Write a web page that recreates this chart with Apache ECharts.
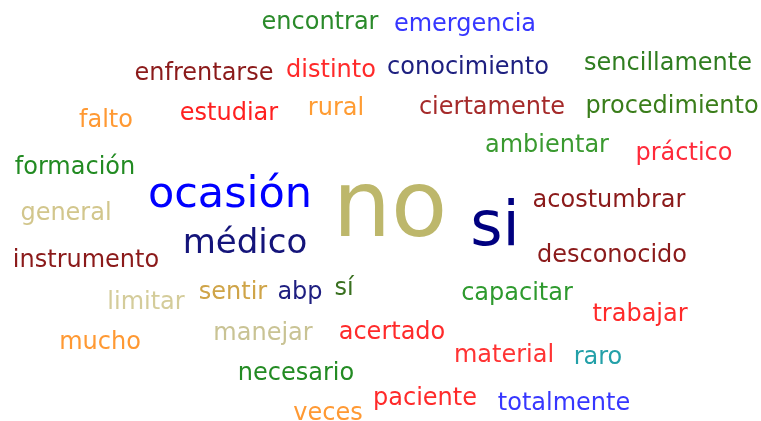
<!DOCTYPE html>
<html>
<head>
<meta charset="utf-8">
<script src="https://cdn.jsdelivr.net/npm/echarts@6/dist/echarts.min.js"></script>
<style>
html, body { margin: 0; padding: 0; background: #fff; }
#chart { width: 761px; height: 421px; }
</style>
</head>
<body>
<div id="chart"></div>
<script>
// word list of the cloud
const words = [
	"encontrar", "emergencia", "enfrentarse", "distinto", "conocimiento", "sencillamente",
	"falto", "estudiar", "rural", "ciertamente", "procedimiento",
	"ambientar", "práctico", "formación", "ocasión", "no", "si", "acostumbrar",
	"general", "médico", "desconocido", "instrumento",
	"limitar", "sentir", "abp", "sí", "capacitar", "trabajar",
	"mucho", "manejar", "acertado", "material", "raro", "necesario",
	"paciente", "totalmente", "veces",
]
// relative frequency (drives text size)
const freq = [
	12, 12, 12, 12, 12, 12,
	12, 12, 12, 12, 12,
	12, 12, 12, 21.5, 46, 31, 12,
	12, 17, 12, 12,
	12, 12, 12, 12, 12, 12,
	12, 12, 12, 12, 12, 12,
	12, 12, 12,
]
// layout of the cloud (x from left, y from top)
const xs = [
	320, 465, 204, 331, 468, 668,
	106, 229, 336, 492, 672,
	547, 684, 75, 230, 390, 495, 609,
	66, 245, 612, 86,
	146, 233, 300, 344, 517, 640,
	100, 263, 392, 504, 598, 296,
	425, 564, 328,
]
const ys = [
	23, 25, 74, 71, 68, 64,
	121, 114, 109, 108, 107,
	146, 154, 168, 196, 212, 229, 201,
	214, 244, 256, 261,
	303, 293, 293, 289, 294, 315,
	343, 334, 333, 356, 358, 374,
	399, 404, 414,
]
const palette = [
	"#2a8a2a", "#3737ff", "#8b1a1a", "#ff2a2a", "#1e2080", "#2f7d20",
	"#ff9933", "#ff2020", "#ff9c33", "#a52a2a", "#3a7d1a",
	"#3a9a30", "#ff2a3a", "#228b22", "#0000ff", "#bdb76b", "#000080", "#8b1a1a",
	"#d2c68c", "#14147a", "#8b1a1a", "#8b1a1a",
	"#d4cc9a", "#cfa448", "#1e1e80", "#3a7020", "#2e9a2e", "#ff2a2a",
	"#ff9933", "#c9c394", "#ff2a2a", "#ff3333", "#23a0a8", "#238b23",
	"#ff2a2a", "#3737ff", "#ff9933",
]

const chart = echarts.init(document.getElementById("chart"), null, { renderer: "canvas" })

const option = {
	backgroundColor: "#fff",
	animation: false,
	grid: { left: 0, right: 0, top: 0, bottom: 0 },
	xAxis: { type: "value", min: 0, max: 761, show: false },
	yAxis: { type: "value", min: 0, max: 421, inverse: true, show: false },
	series: [
		{
			type: "scatter",
			symbolSize: 0,
			silent: true,
			itemStyle: { opacity: 1 },
			data: words.map((w, i) => ({
				name: w,
				value: [xs[i], ys[i]],
				label: {
					fontSize: freq[i] * 2,
					color: palette[i],
				},
			})),
			label: {
				show: true,
				position: "inside",
				align: "center",
				verticalAlign: "middle",
				opacity: 1,
				fontFamily: "Verdana, 'DejaVu Sans', sans-serif",
				formatter: (p) => p.name,
			},
		},
	],
}

chart.setOption(option)
</script>
</body>
</html>
